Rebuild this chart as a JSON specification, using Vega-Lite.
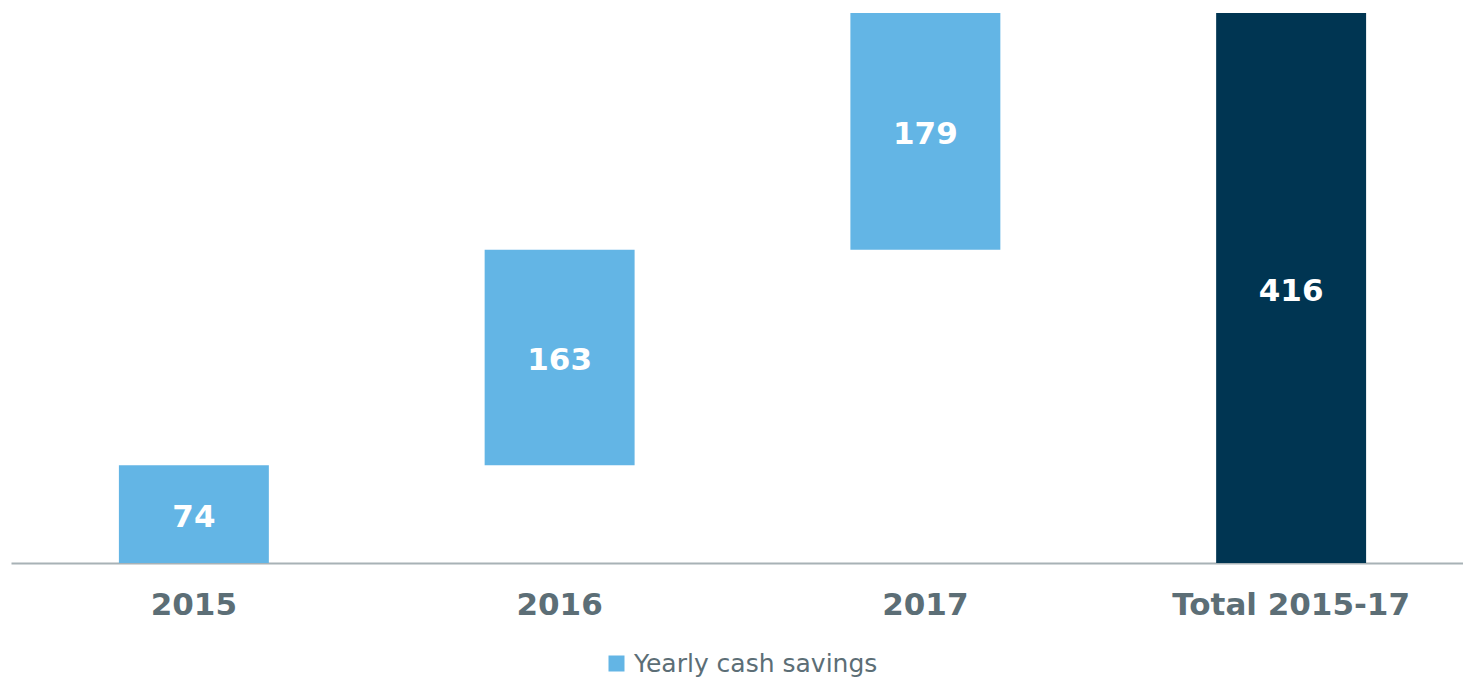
{
  "$schema": "https://vega.github.io/schema/vega-lite/v6.json",
  "width": 1463,
  "height": 550,
  "autosize": {"type": "none"},
  "padding": {"left": 11, "top": 13, "right": 0, "bottom": 115},
  "background": "white",
  "config": {"view": {"stroke": null}, "font": "DejaVu Sans"},
  "data": {
    "values": [
      {"category": "2015", "start": 0, "end": 74, "value": 74, "series": "Yearly cash savings"},
      {"category": "2016", "start": 74, "end": 237, "value": 163, "series": "Yearly cash savings"},
      {"category": "2017", "start": 237, "end": 416, "value": 179, "series": "Yearly cash savings"},
      {"category": "Total 2015-17", "start": 0, "end": 416, "value": 416, "series": "Total"}
    ]
  },
  "encoding": {
    "x": {
      "field": "category",
      "type": "nominal",
      "sort": null,
      "scale": {"paddingInner": 0.59, "paddingOuter": 0.295},
      "axis": {
        "title": null,
        "labelAngle": 0,
        "labelFont": "DejaVu Sans",
        "labelFontWeight": "bold",
        "labelFontSize": 31,
        "labelColor": "#5c6e76",
        "labelPadding": 27,
        "labelLimit": 0,
        "ticks": false,
        "domainColor": "#a8b2b6",
        "domainWidth": 2,
        "grid": false
      }
    }
  },
  "layer": [
    {
      "mark": {"type": "bar"},
      "encoding": {
        "y": {"field": "start", "type": "quantitative", "scale": {"domain": [0, 416], "nice": false}, "axis": null},
        "y2": {"field": "end"},
        "color": {
          "field": "series",
          "type": "nominal",
          "scale": {"domain": ["Yearly cash savings", "Total"], "range": ["#63b5e5", "#003552"]},
          "legend": {
            "values": ["Yearly cash savings"],
            "title": null,
            "orient": "none",
            "legendX": 593,
            "legendY": 638,
            "padding": 0,
            "symbolType": "square",
            "symbolSize": 256,
            "symbolStrokeWidth": 0,
            "labelFont": "DejaVu Sans",
            "labelFontSize": 25,
            "labelColor": "#5c6e76",
            "labelOffset": 5,
            "labelLimit": 0
          }
        }
      }
    },
    {
      "transform": [{"calculate": "(datum.start + datum.end) / 2", "as": "mid"}],
      "mark": {"type": "text", "color": "white", "fontWeight": "bold", "fontSize": 31, "font": "DejaVu Sans", "baseline": "middle", "dy": 4},
      "encoding": {
        "y": {"field": "mid", "type": "quantitative"},
        "text": {"field": "value", "type": "quantitative"}
      }
    }
  ]
}
